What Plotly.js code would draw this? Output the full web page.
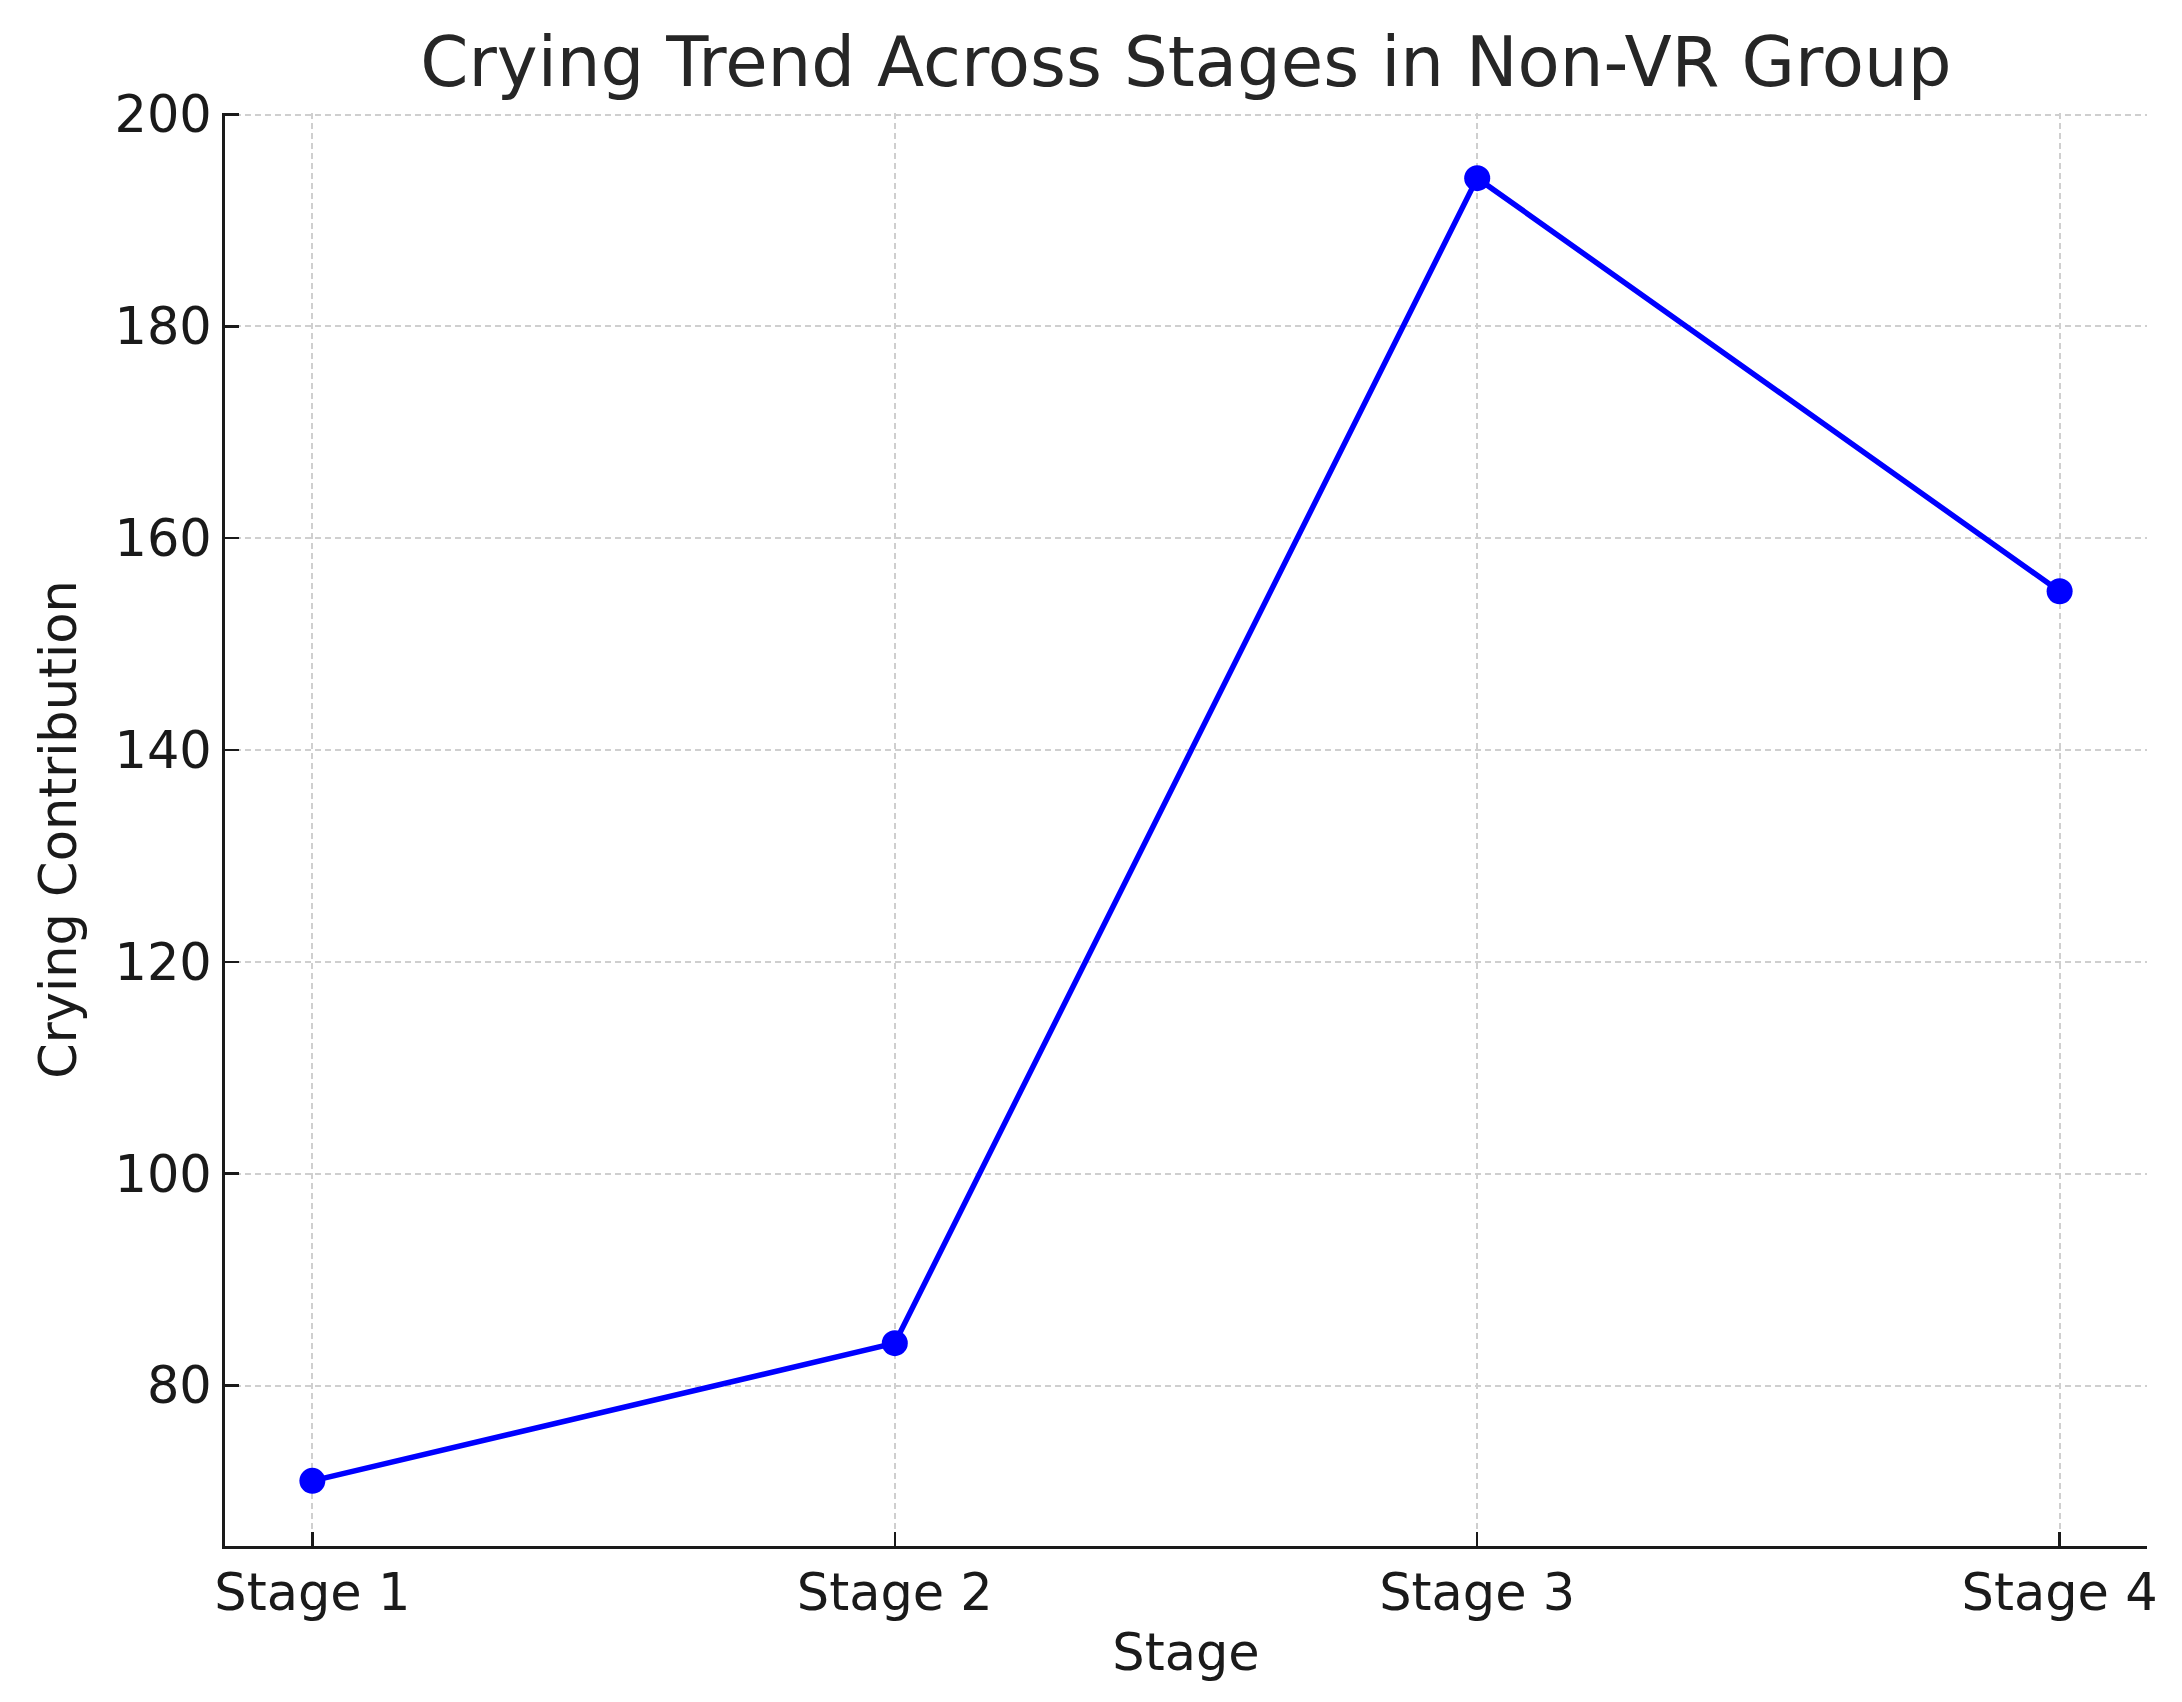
<!DOCTYPE html>
<html>
<head>
<meta charset="utf-8">
<script src="https://cdn.plot.ly/plotly-3.0.1.min.js"></script>
<style>html,body{margin:0;padding:0;background:#fff;}#chart{width:2182px;height:1702px;}</style>
</head>
<body>
<div id="chart"></div>
<script>
const stages = ["Stage 1", "Stage 2", "Stage 3", "Stage 4"];
const cryingContribution = [71, 84, 194, 155];
const yTicks = [80, 100, 120, 140, 160, 180, 200];

const FONT = "DejaVu Sans, Verdana, sans-serif";
const trace = {
  x: stages,
  y: cryingContribution,
  type: "scatter",
  mode: "lines+markers",
  line: {color: "#0000ff", width: 5.5},
  marker: {color: "#0000ff", size: 26},
  cliponaxis: false,
  showlegend: false
};

const layout = {
  width: 2182,
  height: 1702,
  paper_bgcolor: "#ffffff",
  plot_bgcolor: "#ffffff",
  margin: {l: 225, r: 35, t: 113, b: 156},
  font: {family: FONT, color: "#1a1a1a"},
  title: {
    text: "Crying Trend Across Stages in Non-VR Group",
    font: {family: FONT, size: 69, color: "#262626"},
    x: 0.5435, xanchor: "center",
    y: 1 - 62/1702, yref: "container", yanchor: "middle"
  },
  xaxis: {
    type: "category",
    range: [-0.15, 3.15],
    showline: true, linecolor: "#1a1a1a", linewidth: 3,
    ticks: "inside", ticklen: 14, tickwidth: 2.5, tickcolor: "#1a1a1a",
    tickfont: {family: FONT, size: 51, color: "#1a1a1a"},
    showgrid: true, gridcolor: "#cfcfcf", gridwidth: 2, griddash: "6px,4px",
    zeroline: false,
    mirror: false,
    title: {text: "Stage", font: {family: FONT, size: 51, color: "#1a1a1a"}, standoff: 14}
  },
  yaxis: {
    range: [64.85, 200.15],
    tickvals: yTicks,
    showline: true, linecolor: "#1a1a1a", linewidth: 3,
    ticks: "inside", ticklen: 14, tickwidth: 2.5, tickcolor: "#1a1a1a",
    tickfont: {family: FONT, size: 51, color: "#1a1a1a"},
    showgrid: true, gridcolor: "#cfcfcf", gridwidth: 2, griddash: "6px,4px",
    zeroline: false,
    mirror: false,
    title: {text: "Crying Contribution", font: {family: FONT, size: 51, color: "#1a1a1a"}, standoff: 22}
  }
};

Plotly.newPlot("chart", [trace], layout, {displayModeBar: false, staticPlot: true});
</script>
</body>
</html>
